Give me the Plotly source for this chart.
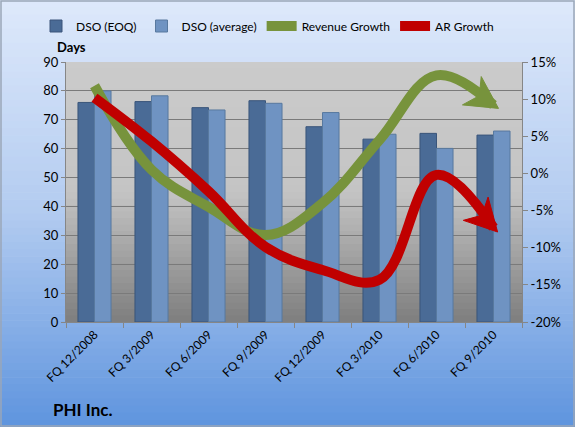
import math
import plotly.graph_objects as go

categories = ["FQ 12/2008", "FQ 3/2009", "FQ 6/2009", "FQ 9/2009",
              "FQ 12/2009", "FQ 3/2010", "FQ 6/2010", "FQ 9/2010"]
dso_eoq = [76, 76.3, 74.2, 76.6, 67.6, 63.3, 65.3, 64.7]
dso_avg = [80, 78.3, 73.4, 75.7, 72.5, 65, 60.1, 66.1]
revenue_growth = [11.8, 0.5, -4.5, -8.3, -4.0, 4.5, 13.2, 9.2]
ar_growth = [10.2, 4.3, -2.4, -9.9, -13.0, -14.3, -0.2, -7.3]
left_ticks = [0, 10, 20, 30, 40, 50, 60, 70, 80, 90]
right_tickvals = [-20, -15, -10, -5, 0, 5, 10, 15]
right_ticktext = ["-20%", "-15%", "-10%", "-5%", "0%", "5%", "10%", "15%"]

FONT = "Lato"
W, H = 575, 427
L, R, T, B = 66, 53, 62, 105
PW, PH = W - L - R, H - T - B
Y2_RANGE = (-20, 15)
xpos = list(range(len(categories)))


def lerp(c1, c2, t):
    return "rgb(%d,%d,%d)" % tuple(round(a + (b - a) * t) for a, b in zip(c1, c2))


def px_to_paper_x(px):
    return (px - L) / PW


def px_to_paper_y(py):
    return (H - B - py) / PH


shapes = []
# figure background gradient (light blue -> deeper blue)
n = 60
top_c, mid_c, bot_c = (222, 233, 251), (178, 203, 240), (94, 148, 222)
for i in range(n):
    y0 = H * i / n
    y1 = H * (i + 1) / n + 0.6
    t = (i + 0.5) / n
    c = lerp(top_c, mid_c, t / 0.5) if t < 0.5 else lerp(mid_c, bot_c, (t - 0.5) / 0.5)
    shapes.append(dict(type="rect", xref="paper", yref="paper", layer="below",
                       x0=px_to_paper_x(0), x1=px_to_paper_x(W),
                       y0=px_to_paper_y(y1), y1=px_to_paper_y(y0),
                       fillcolor=c, line=dict(width=0)))
# plot area gradient (light gray -> darker gray)
m = 40
g_top, g_mid, g_bot = (203, 203, 203), (196, 196, 196), (126, 126, 126)
for i in range(m):
    t = (i + 0.5) / m
    y1 = 1 - i / m
    y0 = 1 - (i + 1) / m - 0.002
    c = lerp(g_top, g_mid, t / 0.5) if t < 0.5 else lerp(g_mid, g_bot, (t - 0.5) / 0.5)
    shapes.append(dict(type="rect", xref="paper", yref="paper", layer="below",
                       x0=0, x1=1, y0=max(y0, 0), y1=y1,
                       fillcolor=c, line=dict(width=0)))
# outer border
shapes.append(dict(type="rect", xref="paper", yref="paper", layer="above",
                   x0=px_to_paper_x(1), x1=px_to_paper_x(W - 1),
                   y0=px_to_paper_y(H - 1), y1=px_to_paper_y(1),
                   fillcolor="rgba(0,0,0,0)", line=dict(color="#9aa7b8", width=1.5)))

fig = go.Figure()
fig.add_trace(go.Bar(name="DSO (EOQ)", x=xpos, y=dso_eoq,
                     marker=dict(color="#4a6b96", line=dict(color="#3a557a", width=1)),
                     yaxis="y"))
fig.add_trace(go.Bar(name="DSO (average)", x=xpos, y=dso_avg,
                     marker=dict(color="#6f93c2", line=dict(color="#58799f", width=1)),
                     yaxis="y"))
fig.add_trace(go.Scatter(name="Revenue Growth", x=xpos, y=revenue_growth,
                         mode="lines", line=dict(color="#77933c", width=10, shape="spline",
                                                 smoothing=1.1),
                         yaxis="y2"))
fig.add_trace(go.Scatter(name="AR Growth", x=xpos, y=ar_growth,
                         mode="lines", line=dict(color="#c00000", width=10, shape="spline",
                                                 smoothing=1.1),
                         yaxis="y2"))

# arrowheads: polygons built from the last data point and the direction of the last segment
SX = PW / len(categories)                 # px per category unit
SY = PH / (Y2_RANGE[1] - Y2_RANGE[0])     # px per percent


def add_arrowhead(series, color, extra_angle, shift=6, length=32, half=17, notch=9):
    x_end, y_end = xpos[-1], series[-1]
    dx = (xpos[-1] - xpos[-2]) * SX
    dy = (series[-1] - series[-2]) * SY
    ang = math.atan2(dy, dx) - math.radians(extra_angle)
    ux, uy = math.cos(ang), math.sin(ang)
    px_, py_ = -uy, ux

    def pt(a, b):  # a along direction, b perpendicular (pixels) -> data coords
        return (x_end + (ux * a + px_ * b) / SX, y_end + (uy * a + py_ * b) / SY)

    pts = [pt(shift, 0), pt(shift - length, half), pt(shift - length + notch, 0),
           pt(shift - length, -half), pt(shift, 0)]
    fig.add_trace(go.Scatter(x=[p[0] for p in pts], y=[p[1] for p in pts],
                             mode="lines", fill="toself", fillcolor=color,
                             line=dict(color=color, width=1), showlegend=False,
                             hoverinfo="skip", yaxis="y2"))


add_arrowhead(revenue_growth, "#77933c", 6)
add_arrowhead(ar_growth, "#c00000", 4)

annotations = [
    dict(text="<b>Days</b>", xref="paper", yref="paper", x=px_to_paper_x(55),
         y=px_to_paper_y(47), xanchor="left", yanchor="middle", showarrow=False,
         font=dict(size=13, family=FONT)),
    dict(text="<b>PHI Inc.</b>", xref="paper", yref="paper", x=px_to_paper_x(51),
         y=px_to_paper_y(409), xanchor="left", yanchor="middle", showarrow=False,
         font=dict(size=17, family=FONT)),
]

fig.update_layout(
    width=W, height=H,
    margin=dict(l=L, r=R, t=T, b=B, pad=0),
    paper_bgcolor="#dfe9fb",
    plot_bgcolor="rgba(0,0,0,0)",
    font=dict(family=FONT, size=13, color="#000000"),
    barmode="group", bargap=0.42, bargroupgap=0.0,
    showlegend=True,
    legend=dict(orientation="h", xref="paper", yref="paper",
                x=px_to_paper_x(36), xanchor="left", y=px_to_paper_y(26),
                yanchor="middle", bgcolor="rgba(0,0,0,0)", font=dict(size=12),
                itemwidth=30, traceorder="normal"),
    xaxis=dict(range=[-0.5, len(categories) - 0.5], tickvals=xpos, ticktext=categories,
               tickangle=-45, tickfont=dict(size=12),
               showline=True, linecolor="#868686", ticks="", showgrid=False,
               zeroline=False,
               minor=dict(tick0=-0.5, dtick=1, ticks="outside", ticklen=5,
                          tickcolor="#868686", showgrid=False)),
    yaxis=dict(range=[0, 90], tickvals=left_ticks, showgrid=True, gridcolor="#7a7a7a",
               gridwidth=1, showline=True, linecolor="#868686", ticks="outside",
               ticklen=4, tickcolor="#868686", zeroline=False, tickfont=dict(size=13)),
    yaxis2=dict(range=list(Y2_RANGE), overlaying="y", side="right", tickvals=right_tickvals,
                ticktext=right_ticktext, showgrid=False, showline=True,
                linecolor="#868686", ticks="outside", ticklen=5, tickcolor="#868686",
                zeroline=False, tickfont=dict(size=13)),
    shapes=shapes,
    annotations=annotations,
)

fig.write_html("out.html")
